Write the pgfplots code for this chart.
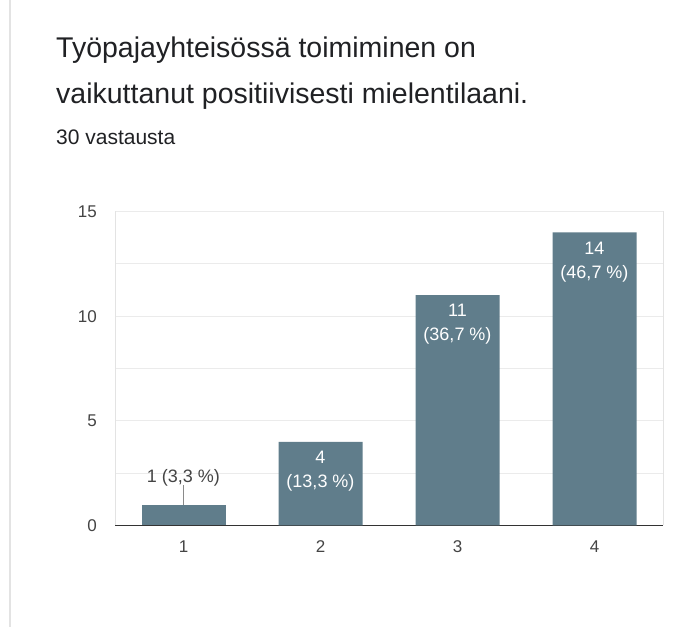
\documentclass[border=0pt]{standalone}
\usepackage{fontspec}
\setmainfont{Liberation Sans}
\usepackage{pgfplots}
\pgfplotsset{compat=1.18}
\definecolor{barcol}{HTML}{607D8B}
\definecolor{gridcol}{HTML}{EBEBEB}
\definecolor{bordcol}{HTML}{E3E3E3}
\definecolor{basecol}{HTML}{333333}
\definecolor{tickcol}{HTML}{444444}
\definecolor{titlecol}{HTML}{202124}
\definecolor{leadcol}{HTML}{8A8A8A}
\begin{document}
\begin{tikzpicture}[x=1pt,y=1pt]
\path[use as bounding box] (0,0) rectangle (673,627);
\fill[white] (0,0) rectangle (673,627);
\draw[bordcol, line width=1.5pt] (10,0) -- (10,627);
\node[anchor=base west, inner sep=0pt, text=titlecol, font=\fontsize{28.5}{34}\selectfont] at (56,569) {Työpajayhteisössä toimiminen on};
\node[anchor=base west, inner sep=0pt, text=titlecol, font=\fontsize{28.5}{34}\selectfont] at (56,523) {vaikuttanut positiivisesti mielentilaani.};
\node[anchor=base west, inner sep=0pt, text=titlecol, font=\fontsize{21}{25}\selectfont] at (56,482) {30 vastausta};
\begin{axis}[
  at={(115pt,101.5pt)}, anchor=south west,
  scale only axis, width=548pt, height=314pt,
  xmin=0.5, xmax=4.5, ymin=0, ymax=15,
  xtick={1,2,3,4}, ytick={0,5,10,15},
  minor ytick={2.5,7.5,12.5},
  ymajorgrids, yminorgrids,
  major grid style={draw=gridcol, line width=1pt},
  minor grid style={draw=gridcol, line width=1pt},
  axis x line=bottom, axis y line=box,
  x axis line style={draw=basecol, line width=1.6pt, -},
  y axis line style={draw=bordcol, line width=1pt, -},
  major tick length=0pt, minor tick length=0pt,
  tick label style={font=\fontsize{17}{20}\selectfont, text=tickcol, inner sep=0pt},
  /pgf/number format/assume math mode=true,
  yticklabel shift=18pt, xticklabel shift=15pt,
  clip=false,
]
\addplot[ybar, bar width=84pt, bar shift=0pt, fill=barcol, draw=none,
  point meta=explicit symbolic, nodes near coords,
  nodes near coords align={below},
  every node near coord/.style={align=center, text=white, inner sep=0pt,
    font=\fontsize{18}{24}\selectfont, yshift=-9pt}]
  table[x=x, y=y, meta=label, col sep=semicolon]{
x;y;label
2;4;{4\\(13,3~\%)}
3;11;{11\\(36,7~\%)}
4;14;{14\\(46,7~\%)}
};
\addplot[ybar, bar width=84pt, bar shift=0pt, fill=barcol, draw=none,
  point meta=explicit symbolic, nodes near coords,
  nodes near coords align={above},
  every node near coord/.style={text=tickcol, inner sep=0pt,
    font=\fontsize{18}{24}\selectfont, yshift=18pt},
  error bars/.cd, y dir=plus, y explicit, error mark=none,
  error bar style={draw=leadcol, line width=1.2pt}]
  table[x=x, y=y, y error=e, meta=label, col sep=semicolon]{
x;y;e;label
1;1;0.93;{1 (3,3~\%)}
};
\end{axis}
\end{tikzpicture}
\end{document}
